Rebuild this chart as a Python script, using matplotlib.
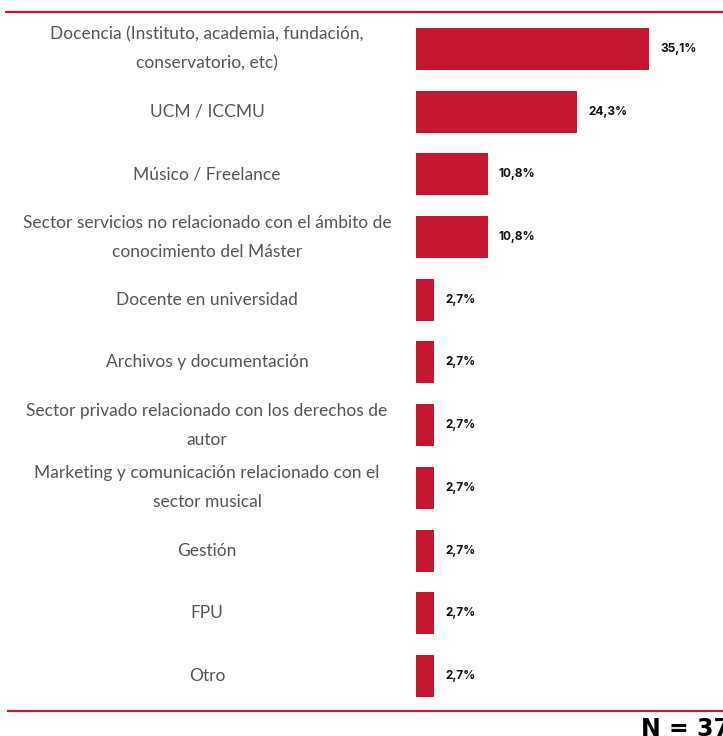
import matplotlib.pyplot as plt
import matplotlib.transforms as mtransforms
from matplotlib.lines import Line2D

categories = [
    'Docencia (Instituto, academia, fundación,\nconservatorio, etc)',
    'UCM / ICCMU',
    'Músico / Freelance',
    'Sector servicios no relacionado con el ámbito de\nconocimiento del Máster',
    'Docente en universidad',
    'Archivos y documentación',
    'Sector privado relacionado con los derechos de\nautor',
    'Marketing y comunicación relacionado con el\nsector musical',
    'Gestión',
    'FPU',
    'Otro',
]
values = [35.1, 24.3, 10.8, 10.8, 2.7, 2.7, 2.7, 2.7, 2.7, 2.7, 2.7]
value_labels = ['35,1%', '24,3%', '10,8%', '10,8%', '2,7%', '2,7%', '2,7%',
                '2,7%', '2,7%', '2,7%', '2,7%']

red = '#c51632'
W, H = 723, 736

fig = plt.figure(figsize=(W / 100, H / 100), dpi=100)
fig.patch.set_facecolor('white')

# axes spans from the top rule to the bottom rule
ax_left, ax_right = 416, 723
ax_top, ax_bottom = 12, 711
ax = fig.add_axes([ax_left / W, 1 - ax_bottom / H,
                   (ax_right - ax_left) / W, (ax_bottom - ax_top) / H])

ypos = list(range(len(categories)))
ax.barh(ypos, values, height=0.67, color=red)
ax.set_xlim(0, (ax_right - ax_left) / 6.64)
ax.set_ylim(len(categories) - 1 + 0.56, -0.59)
ax.axis('off')

for y, v, lab in zip(ypos, values, value_labels):
    ax.annotate(lab, (v, y), xytext=(11, 0), textcoords='offset pixels',
                va='center', ha='left', fontsize=8.5, fontweight='bold',
                family=['Inter', 'DejaVu Sans'], color='#111111')

trans = mtransforms.blended_transform_factory(fig.transFigure, ax.transData)
for y, cat in zip(ypos, categories):
    ax.text(207 / W, y, cat, transform=trans, ha='center', va='center',
            fontsize=12.5, color='#555555', linespacing=2.0,
            family=['Lato', 'DejaVu Sans'])

# top and bottom rules
fig.add_artist(Line2D([6 / W, 1], [1 - 12 / H] * 2, color=red, lw=1.6,
                      transform=fig.transFigure))
fig.add_artist(Line2D([8 / W, 1], [1 - 711 / H] * 2, color=red, lw=1.6,
                      transform=fig.transFigure))

fig.text(641 / W, 1 - 729 / H, 'N = 37', ha='left', va='center',
         fontsize=17, fontweight='heavy', family=['DejaVu Sans'],
         color='black')

fig.savefig('out.png', dpi=100)
